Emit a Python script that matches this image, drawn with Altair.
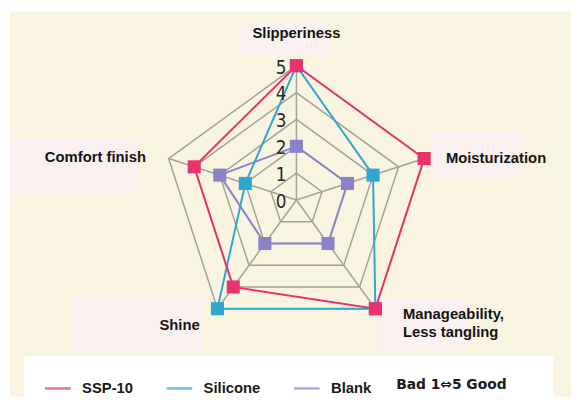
import math
import altair as alt
import pandas as pd

# ---- data ----
categories = ["Slipperiness", "Moisturization", "Manageability,\nLess tangling", "Shine", "Comfort finish"]
series_names = ["SSP-10", "Silicone", "Blank"]
ssp10 = [5, 5, 5, 4, 4]
silicone = [5, 3, 5, 5, 2]
blank = [2, 2, 2, 2, 3]
levels = [0, 1, 2, 3, 4, 5]
series_colors = ["#e8336e", "#2ea6cf", "#8c82c9"]
legend_title = "Bad 1⇔5 Good"

# ---- geometry helpers ----
n = len(categories)
angles = [2 * math.pi * i / n for i in range(n)]


def xy(r, i):
    a = angles[i % n]
    return r * math.sin(a), r * math.cos(a)


W, H = 568, 390
unit = 27.2
cx, cy = 290, 191
xdom = [-cx / unit, (W - cx) / unit]
ydom = [-(H - cy) / unit, cy / unit]
xs = alt.Scale(domain=xdom, nice=False, zero=False)
ys = alt.Scale(domain=ydom, nice=False, zero=False)

# grid rings
grid_rows = []
for lv in levels[1:]:
    for k in range(n + 1):
        x, y = xy(lv, k)
        grid_rows.append({"lv": lv, "k": k, "x": x, "y": y})
grid_df = pd.DataFrame(grid_rows)

spoke_rows = []
for i in range(n):
    x, y = xy(levels[-1], i)
    spoke_rows.append({"i": i, "x": 0.0, "y": 0.0, "x2": x, "y2": y})
spoke_df = pd.DataFrame(spoke_rows)

# series
vals = {"SSP-10": ssp10, "Silicone": silicone, "Blank": blank}
ser_rows = []
for s in series_names:
    for k in range(n + 1):
        x, y = xy(vals[s][k % n], k)
        ser_rows.append({"series": s, "k": k, "x": x, "y": y, "pt": k < n})
ser_df = pd.DataFrame(ser_rows)

tick_df = pd.DataFrame({"lv": levels, "x": [0.0] * len(levels), "y": levels, "t": [str(v) for v in levels]})

X = lambda f: alt.X(f, type="quantitative", scale=xs, axis=None)
Y = lambda f: alt.Y(f, type="quantitative", scale=ys, axis=None)

grid_color = "#a3a29b"

# decorative label panels (pixel offsets around each label anchor)
font = "Liberation Sans, Arial, sans-serif"
lab_specs = [
    # idx, radius, align, dx, dy, panel (left, right, top, bottom) in px relative to anchor
    (0, 6.2, "center", 0, 0, (-58, 36, -11, 22)),
    (1, 5, "left", 22, 0, (8, 101, -28, 19)),
    (2, 5, "left", 28, 5, (3, 95, -10, 42)),
    (3, 5, "right", -18, 17, (-147, -15, -11, 43)),
    (4, 5, "right", -23, -1, (-161, -31, -20, 36)),
]
panel_rows = []
for i, r, al, dx, dy, (l, rr, t, b) in lab_specs:
    x, y = xy(r, i)
    panel_rows.append({"x": x + l / unit, "x2": x + rr / unit, "y": y - t / unit, "y2": y - b / unit})
panel_df = pd.DataFrame(panel_rows)
panels = alt.Chart(panel_df).mark_rect(color="#faf0ef").encode(x=X("x"), x2="x2", y=Y("y"), y2="y2")

# legend panel (page px 24..560 x 358..400 -> data units)
lp = pd.DataFrame({"x": [(24 - 300) / unit], "x2": [(560 - 300) / unit],
                   "y": [(200 - 358) / unit], "y2": [(200 - 410) / unit]})
legend_panel = alt.Chart(lp).mark_rect(color="white").encode(x=X("x"), x2="x2", y=Y("y"), y2="y2")

rings = alt.Chart(grid_df).mark_line(color=grid_color, strokeWidth=1.5).encode(
    x=X("x"), y=Y("y"), detail="lv:N", order="k:Q")
spokes = alt.Chart(spoke_df).mark_rule(color=grid_color, strokeWidth=1.5).encode(
    x=X("x"), y=Y("y"), x2="x2", y2="y2")
ticks = alt.Chart(tick_df).mark_text(
    align="right", baseline="middle", dx=-10, dy=2, fontSize=19,
    font="Liberation Sans Narrow, DejaVu Sans Condensed, sans-serif", color="#2a2a2a"
).encode(x=X("x"), y=Y("y"), text="t:N")

color = alt.Color(
    "series:N",
    scale=alt.Scale(domain=series_names, range=series_colors),
    legend=alt.Legend(
        orient="none", legendX=34, legendY=367, direction="horizontal",
        symbolType="stroke", symbolSize=676, symbolStrokeWidth=2.5, symbolOpacity=0.7,
        labelFont="Liberation Sans", labelFontSize=15, labelFontWeight="bold",
        labelColor="#1a1a1a", labelOffset=10, columnPadding=28,
        title=legend_title, titleOrient="right", titleFont="DejaVu Sans",
        titleFontSize=14, titleFontWeight="bold", titleColor="#1a1a1a", titlePadding=25,
        titleBaseline="middle", padding=0,
    ),
)

series_layers = []
for s in ["Blank", "Silicone", "SSP-10"]:
    base = alt.Chart(ser_df).transform_filter(alt.datum.series == s)
    series_layers.append(base.mark_line(strokeWidth=2).encode(x=X("x"), y=Y("y"), order="k:Q", color=color))
for s in ["Blank", "Silicone", "SSP-10"]:
    base = alt.Chart(ser_df).transform_filter((alt.datum.series == s) & alt.datum.pt)
    series_layers.append(base.mark_point(shape="square", filled=True, size=175, opacity=1).encode(
        x=X("x"), y=Y("y"), color=color))

# category labels
label_layers = []
for i, r, al, dx, dy, _ in lab_specs:
    x, y = xy(r, i)
    d = pd.DataFrame({"x": [x], "y": [y], "t": [categories[i].split("\n")]})
    label_layers.append(alt.Chart(d).mark_text(
        align=al, baseline="middle", dx=dx, dy=dy, fontSize=15, fontWeight="bold",
        font=font, color="#141414", lineHeight=19
    ).encode(x=X("x"), y=Y("y"), text="t"))

chart = alt.layer(panels, legend_panel, rings, spokes, *series_layers, ticks, *label_layers).properties(
    width=W, height=H, autosize=alt.AutoSizeParams(type="none"),
    padding={"left": 2, "top": 1, "right": 0, "bottom": 0}, background="white"
).configure_view(fill="#f8f4df", stroke=None)

chart.save("out.html", embed_options={"renderer": "svg", "actions": False})
